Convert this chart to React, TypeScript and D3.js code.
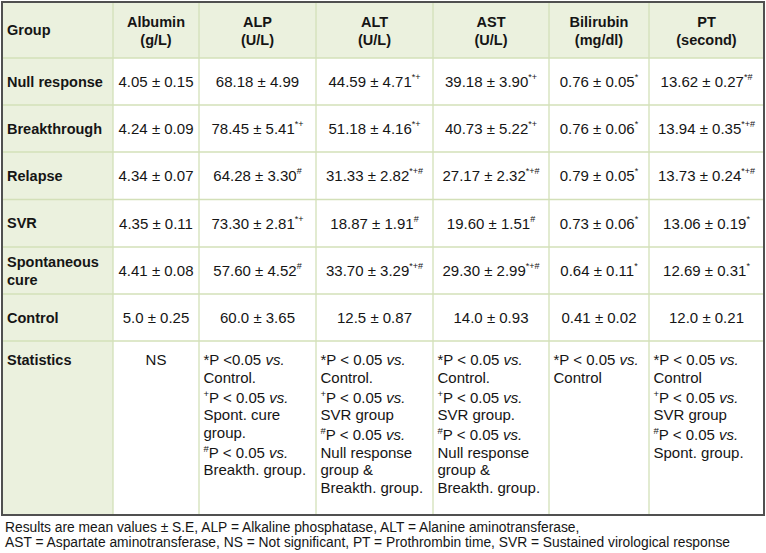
import React from "react";
import * as d3 from "d3";

// table content
const groups = ["Null response", "Breakthrough", "Relapse", "SVR", "Spontaneous cure", "Control"];
const headers = [["Group"], ["Albumin", "(g/L)"], ["ALP", "(U/L)"], ["ALT", "(U/L)"], ["AST", "(U/L)"], ["Bilirubin", "(mg/dl)"], ["PT", "(second)"]];

const albumin = ["4.05 ± 0.15", "4.24 ± 0.09", "4.34 ± 0.07", "4.35 ± 0.11", "4.41 ± 0.08", "5.0 ± 0.25"];
const albuminSig = ["", "", "", "", "", ""];
const alp = ["68.18 ± 4.99", "78.45 ± 5.41", "64.28 ± 3.30", "73.30 ± 2.81", "57.60 ± 4.52", "60.0 ± 3.65"];
const alpSig = ["", "*+", "#", "*+", "#", ""];
const alt = ["44.59 ± 4.71", "51.18 ± 4.16", "31.33 ± 2.82", "18.87 ± 1.91", "33.70 ± 3.29", "12.5 ± 0.87"];
const altSig = ["*+", "*+", "*+#", "#", "*+#", ""];
const ast = ["39.18 ± 3.90", "40.73 ± 5.22", "27.17 ± 2.32", "19.60 ± 1.51", "29.30 ± 2.99", "14.0 ± 0.93"];
const astSig = ["*+", "*+", "*+#", "#", "*+#", ""];
const bilirubin = ["0.76 ± 0.05", "0.76 ± 0.06", "0.79 ± 0.05", "0.73 ± 0.06", "0.64 ± 0.11", "0.41 ± 0.02"];
const bilirubinSig = ["*", "*", "*", "*", "*", ""];
const pt = ["13.62 ± 0.27", "13.94 ± 0.35", "13.73 ± 0.24", "13.06 ± 0.19", "12.69 ± 0.31", "12.0 ± 0.21"];
const ptSig = ["*#", "*+#", "*+#", "*", "*", ""];

// "^" = first char is superscript (starts a new note)
const albuminStats = ["NS"];
const alpStats = ["*P <0.05 vs.", "Control.", "^+P < 0.05 vs.", "Spont. cure", "group.", "^#P < 0.05 vs.", "Breakth. group."];
const altStats = ["*P < 0.05 vs.", "Control.", "^+P < 0.05 vs.", "SVR group", "^#P < 0.05 vs.", "Null response", "group &", "Breakth. group."];
const astStats = ["*P < 0.05 vs.", "Control.", "^+P < 0.05 vs.", "SVR group.", "^#P < 0.05 vs.", "Null response", "group &", "Breakth. group."];
const bilirubinStats = ["*P < 0.05 vs.", "Control"];
const ptStats = ["*P < 0.05 vs.", "Control", "^+P < 0.05 vs.", "SVR group", "^#P < 0.05 vs.", "Spont. group."];

const footnotes = [
  "Results are mean values ± S.E, ALP = Alkaline phosphatase, ALT = Alanine aminotransferase,",
  "AST = Aspartate aminotransferase, NS = Not significant, PT = Prothrombin time, SVR = Sustained virological response",
];

const values = [albumin, alp, alt, ast, bilirubin, pt];
const sigs = [albuminSig, alpSig, altSig, astSig, bilirubinSig, ptSig];
const stats = [albuminStats, alpStats, altStats, astStats, bilirubinStats, ptStats];

const W = 766;
const H = 553;
const font = "'Liberation Sans', Arial, sans-serif";
const ink = "#151515";
const green = "#ebf1de";
const gridColor = "#d3e0b8";
const borderColor = "#505050";
const boldSize = 14.5;
const textSize = 15;

const colWidths = [111, 86, 117, 117, 116, 100, 115];
const rowHeights = [56, 47, 47, 47.5, 47.5, 47, 47, 174];

const colEdges = [0, ...d3.cumsum(colWidths)];
const rowEdges = [0, ...d3.cumsum(rowHeights)];
const x = d3.scaleLinear().domain([0, colEdges[colEdges.length - 1]]).range([2, 764]);
const y = d3.scaleLinear().domain([0, rowEdges[rowEdges.length - 1]]).range([2, 515]);

const colX = (i: number) => x(colEdges[i]);
const colMid = (i: number) => (x(colEdges[i]) + x(colEdges[i + 1])) / 2;
const rowY = (i: number) => y(rowEdges[i]);
const rowMid = (i: number) => (y(rowEdges[i]) + y(rowEdges[i + 1])) / 2;

function StatLine({ s, x0, y0 }: { s: string; x0: number; y0: number }) {
  let sup = "";
  let rest = s;
  if (s.startsWith("^")) {
    sup = s[1];
    rest = s.slice(2);
  }
  const parts = rest.split(" vs.");
  return (
    <text x={x0} y={y0} fontSize={textSize} fill={ink}>
      {sup && <tspan fontSize={9.5} dy={-6}>{sup}</tspan>}
      <tspan dy={sup ? 6 : 0}>{parts[0]}</tspan>
      {parts.length > 1 && <tspan> </tspan>}
      {parts.length > 1 && <tspan fontStyle="italic">vs.</tspan>}
      {parts.length > 1 && parts[1] && <tspan>{parts[1]}</tspan>}
    </text>
  );
}

// baseline offsets of stat lines, with a little extra room before each new note
function statOffsets(lines: string[]) {
  const lineH = 17.5;
  const noteGap = 2.5;
  let off = 0;
  return lines.map((s, k) => {
    if (k > 0) off += lineH + (s.startsWith("^") ? noteGap : 0);
    return off;
  });
}

export default function App() {
  const nRows = rowHeights.length;
  const nCols = colWidths.length;
  const statsRow = nRows - 1;
  const statTop = rowY(statsRow) + 24;

  return (
    <svg width={W} height={H} style={{ position: "absolute", left: 0, top: 0, background: "#fff" }} fontFamily={font}>
      {/* shaded header row and first column */}
      <rect x={colX(0)} y={rowY(0)} width={colX(nCols) - colX(0)} height={rowY(1) - rowY(0)} fill={green} />
      <rect x={colX(0)} y={rowY(0)} width={colX(1) - colX(0)} height={rowY(nRows) - rowY(0)} fill={green} />

      {/* grid */}
      {d3.range(1, nCols).map((i) => (
        <line key={"v" + i} x1={colX(i)} x2={colX(i)} y1={rowY(0)} y2={rowY(nRows)} stroke={gridColor} strokeWidth={1.3} />
      ))}
      {d3.range(1, nRows).map((i) => (
        <line key={"h" + i} x1={colX(0)} x2={colX(nCols)} y1={rowY(i)} y2={rowY(i)} stroke={gridColor} strokeWidth={1.3} />
      ))}

      {/* header */}
      <text x={colX(0) + 5} y={rowMid(0) + 5} fontSize={boldSize} fontWeight="bold" fill={ink}>{headers[0][0]}</text>
      {headers.slice(1).map((h, i) => (
        <g key={"hd" + i}>
          <text x={colMid(i + 1)} y={rowMid(0) - 3.5} textAnchor="middle" fontSize={boldSize} fontWeight="bold" fill={ink}>{h[0]}</text>
          <text x={colMid(i + 1)} y={rowMid(0) + 15} textAnchor="middle" fontSize={boldSize} fontWeight="bold" fill={ink}>{h[1]}</text>
        </g>
      ))}

      {/* group labels */}
      {groups.map((g, r) => {
        const words = g.split(" ");
        const twoLine = g === "Spontaneous cure";
        return twoLine ? (
          <g key={"g" + r}>
            <text x={colX(0) + 5} y={rowMid(r + 1) - 4} fontSize={boldSize} fontWeight="bold" fill={ink}>{words[0]}</text>
            <text x={colX(0) + 5} y={rowMid(r + 1) + 14} fontSize={boldSize} fontWeight="bold" fill={ink}>{words[1]}</text>
          </g>
        ) : (
          <text key={"g" + r} x={colX(0) + 5} y={rowMid(r + 1) + 5} fontSize={boldSize} fontWeight="bold" fill={ink}>{g}</text>
        );
      })}

      {/* values */}
      {values.map((col, c) =>
        col.map((v, r) => (
          <text key={"v" + c + "-" + r} x={colMid(c + 1)} y={rowMid(r + 1) + 5.5} textAnchor="middle" fontSize={textSize} fill={ink}>
            {v}
            {sigs[c][r] && <tspan fontSize={9} dy={-7}>{sigs[c][r]}</tspan>}
          </text>
        ))
      )}

      {/* statistics row */}
      <text x={colX(0) + 5} y={statTop} fontSize={boldSize} fontWeight="bold" fill={ink}>Statistics</text>
      {stats.map((lines, c) => {
        if (c === 0) {
          return (
            <text key={"s" + c} x={colMid(1)} y={statTop} textAnchor="middle" fontSize={textSize} fill={ink}>{lines[0]}</text>
          );
        }
        const offs = statOffsets(lines);
        return (
          <g key={"s" + c}>
            {lines.map((s, k) => (
              <StatLine key={k} s={s} x0={colX(c + 1) + 4.5} y0={statTop + offs[k]} />
            ))}
          </g>
        );
      })}

      {/* outer border */}
      <rect x={colX(0)} y={rowY(0)} width={colX(nCols) - colX(0)} height={rowY(nRows) - rowY(0)} fill="none" stroke={borderColor} strokeWidth={2} />

      {/* footnotes */}
      {footnotes.map((f, i) => (
        <text key={"f" + i} x={5} y={532 + i * 15} fontSize={13.8} fill={ink}>{f}</text>
      ))}
    </svg>
  );
}
